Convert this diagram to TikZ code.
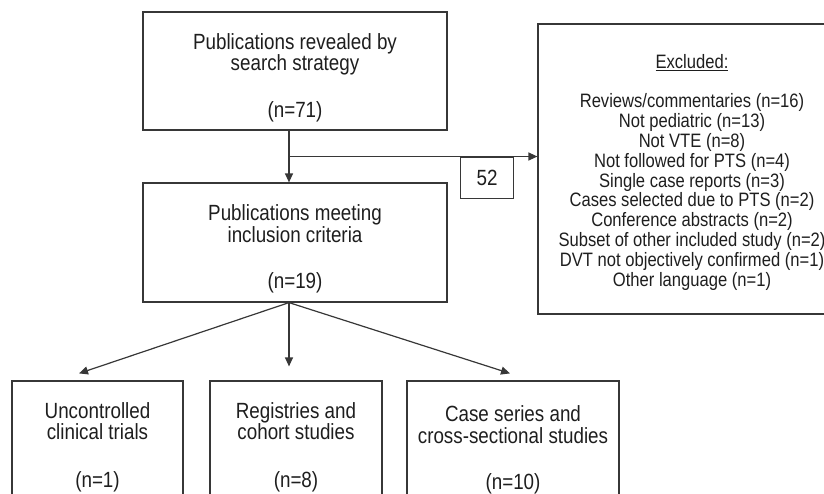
\documentclass[tikz,border=0pt]{standalone}
\usepackage{fontspec}
\setmainfont[FakeStretch=0.855]{Liberation Sans}
\usepackage{tikz}
\usetikzlibrary{arrows.meta, positioning, calc}
\definecolor{myline}{RGB}{55,55,55}
\definecolor{mytext}{RGB}{30,30,30}
\tikzset{
  box/.style={rectangle, draw=myline, line width=1.2pt, align=center,
    text=mytext, inner sep=0pt, font=\fontsize{22}{21.6}\selectfont},
  topbox/.style={box, minimum width=304pt, text height=92pt, text depth=0pt},
  studybox/.style={box, minimum height=132pt},
  listbox/.style={box, minimum width=308pt, minimum height=290pt,
    text height=234pt, text depth=0pt, font=\fontsize{19.4}{19.8}\selectfont},
  countbox/.style={box, minimum width=53pt, minimum height=41pt},
  arrow/.style={-{Triangle[length=9pt,width=8pt]}, line width=1.2pt, color=myline},
  line/.style={line width=1.2pt, color=myline}
}

\begin{document}
\begin{tikzpicture}[x=1pt, y=-1pt]
  \useasboundingbox (0,0) rectangle (824,493);
  \clip (0,0) rectangle (824,493);

  % Search and inclusion
  \node[topbox, minimum height=118pt] (found) at (295,71)
    {Publications revealed by\\search strategy\\[24.5pt](n=71)};
  \node[topbox, minimum height=119pt] (incl) at (295,242.5)
    {Publications meeting\\inclusion criteria\\[24.5pt](n=19)};

  % Excluded
  \node[listbox] (excl) at (692,169)
    {\underline{Excluded:}\\[19.6pt]
     Reviews/commentaries (n=16)\\
     Not pediatric (n=13)\\
     Not VTE (n=8)\\
     Not followed for PTS (n=4)\\
     Single case reports (n=3)\\
     Cases selected due to PTS (n=2)\\
     Conference abstracts (n=2)\\
     Subset of other included study (n=2)\\
     DVT not objectively confirmed (n=1)\\
     Other language (n=1)};

  % Study types
  \node[studybox, minimum width=171pt] (trials) at (97.5,447)
    {Uncontrolled\\clinical trials\\[26pt](n=1)};
  \node[studybox, minimum width=172pt] (registries) at (296,447)
    {Registries and\\cohort studies\\[26pt](n=8)};
  \node[studybox, minimum width=212pt, minimum height=138pt] (series) at (513,450)
    {Case series and\\cross-sectional studies\\[25pt](n=10)};

  % Arrows
  \coordinate (top) at ([xshift=-6pt]found.south);
  \coordinate (split) at ($(top)!0.5!(top |- incl.north)$);
  \coordinate (fork) at ([xshift=-6pt]incl.south);
  \draw[arrow] (top) -- (top |- incl.north);
  \draw[arrow] (split) -- (split -| excl.west);
  \node[countbox, anchor=north west] (nexcl) at ([xshift=171pt]split) {52};

  \coordinate (trials-in) at ([xshift=-18.5pt, yshift=7pt]trials.north);
  \coordinate (registries-in) at ([xshift=-7pt, yshift=14pt]registries.north);
  \coordinate (series-in) at ([xshift=-3pt, yshift=7pt]series.north);
  \draw[arrow] (fork) -- (trials-in);
  \draw[arrow] (fork) -- (registries-in);
  \draw[arrow] (fork) -- (series-in);
\end{tikzpicture}
\end{document}
